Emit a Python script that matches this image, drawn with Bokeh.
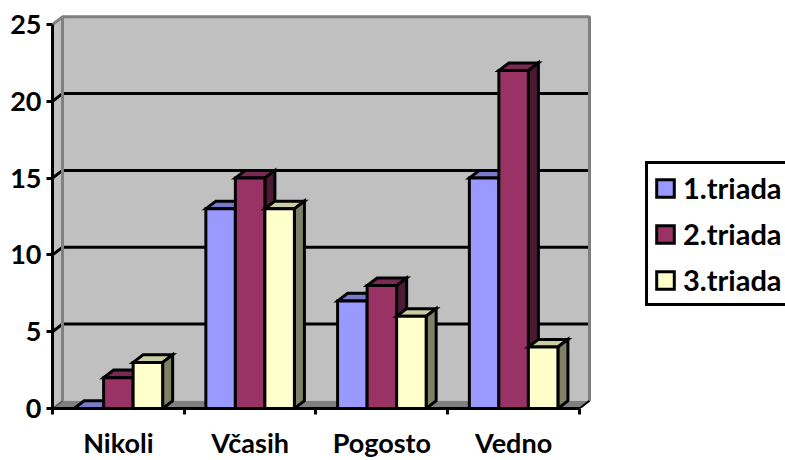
from bokeh.plotting import figure
from bokeh.embed import file_html
from bokeh.resources import INLINE
from bokeh.models import FixedTicker, Legend, LegendItem, ColumnDataSource, Range1d

categories = ["Nikoli", "Včasih", "Pogosto", "Vedno"]
series_names = ["1.triada", "2.triada", "3.triada"]
triada_1 = [0, 13, 7, 15]
triada_2 = [2, 15, 8, 22]
triada_3 = [3, 13, 6, 4]
y_ticks = [0, 5, 10, 15, 20, 25]

front_colors = ["#9999FF", "#993366", "#FFFFCC"]
top_colors = ["#7A7ACC", "#7A2952", "#CCCCA3"]
side_colors = ["#5C5C99", "#4D1A33", "#808066"]

# Oblique depth of the 3D box, in axis units
DX = 0.076
DY = 0.5
BAR_W = 0.224
GROUP_START = 0.164
N = len(categories)
Y_MAX = y_ticks[-1]
INK = 3

p = figure(width=785, height=460, output_backend="svg", toolbar_location=None,
           x_range=Range1d(0, 4.0987), y_range=Range1d(0, 25.651),
           frame_width=540, frame_height=394,
           min_border_left=52, min_border_right=193, min_border_top=14, min_border_bottom=52,
           background_fill_color=None, border_fill_color="white", outline_line_color=None)
p.grid.visible = False

# Back wall, side wall and floor
p.patch([DX, N + DX, N + DX, DX], [DY, DY, Y_MAX + DY, Y_MAX + DY], fill_color="#C0C0C0", line_color=None)
p.patch([0, DX, DX, 0], [0, DY, Y_MAX + DY, Y_MAX], fill_color="#C0C0C0", line_color=None)
p.patch([0, N, N + DX, DX], [0, 0, DY, DY], fill_color="#808080", line_color=None)

# Gridlines run along the back wall and bend down the side wall
for t in y_ticks[1:-1]:
    p.line([0, DX, N + DX], [t, t + DY, t + DY], line_color="black", line_width=INK)

# Wall outline drawn over the gridline ends
p.line([0, DX, N + DX, N + DX], [Y_MAX, Y_MAX + DY, Y_MAX + DY, DY], line_color="#808080", line_width=INK)
p.line([DX, DX], [DY, Y_MAX + DY], line_color="#808080", line_width=INK)
p.line([N, N + DX], [0, DY], line_color="black", line_width=2)
p.line([0, DX], [0, DY], line_color="#555555", line_width=1.5)

legend_items = []
for s, values in enumerate([triada_1, triada_2, triada_3]):
    left = [i + GROUP_START + s * BAR_W for i in range(N)]
    right = [x + BAR_W for x in left]
    p.patches([[l, r, r + DX, l + DX] for l, r in zip(left, right)],
              [[v, v, v + DY, v + DY] for v in values],
              fill_color=top_colors[s], line_color="black", line_width=INK, line_join="miter")
    p.patches([[r, r + DX, r + DX, r] for r in right],
              [[0, DY, v + DY, v] for v in values],
              fill_color=side_colors[s], line_color="black", line_width=INK, line_join="miter")
    src = ColumnDataSource(dict(left=left, right=right, top=values, bottom=[0] * N))
    bars = p.quad(left="left", right="right", top="top", bottom="bottom", source=src,
                  fill_color=front_colors[s], line_color="black", line_width=INK, line_join="miter")
    legend_items.append(LegendItem(label=series_names[s], renderers=[bars]))

FONT = "Lato"
p.yaxis.bounds = (0, Y_MAX)
p.yaxis.ticker = FixedTicker(ticks=y_ticks)
p.yaxis.axis_line_color = "black"
p.yaxis.axis_line_width = INK
p.yaxis.major_tick_line_color = "black"
p.yaxis.major_tick_line_width = INK
p.yaxis.major_tick_in = 0
p.yaxis.major_tick_out = 6
p.yaxis.minor_tick_line_color = None
p.yaxis.major_label_standoff = 5
p.yaxis.major_label_text_font = FONT
p.yaxis.major_label_text_font_style = "bold"
p.yaxis.major_label_text_font_size = "27px"
p.yaxis.major_label_text_color = "black"

# Category names sit mid-interval, tick marks on the interval boundaries
p.xaxis.bounds = (0, N)
p.xaxis.ticker = FixedTicker(ticks=[i + 0.5 for i in range(N)], minor_ticks=list(range(N + 1)))
p.xaxis.major_label_overrides = {i + 0.5: c for i, c in enumerate(categories)}
p.xaxis.axis_line_color = "black"
p.xaxis.axis_line_width = INK
p.xaxis.major_tick_line_color = None
p.xaxis.major_tick_in = 0
p.xaxis.major_tick_out = 0
p.xaxis.minor_tick_line_color = "black"
p.xaxis.minor_tick_line_width = INK
p.xaxis.minor_tick_in = 0
p.xaxis.minor_tick_out = 6
p.xaxis.major_label_standoff = 11
p.xaxis.major_label_text_font = FONT
p.xaxis.major_label_text_font_style = "bold"
p.xaxis.major_label_text_font_size = "27px"
p.xaxis.major_label_text_color = "black"

# Legend panel beside the plot box, running up to the right page edge
legend = Legend(items=legend_items, location=(53, 102), orientation="vertical",
                margin=0, padding=6, spacing=11, glyph_width=22, glyph_height=22,
                label_standoff=7, label_text_font=FONT, label_text_font_style="bold",
                label_text_font_size="29px", label_text_color="black",
                border_line_color="black", border_line_width=INK, border_line_alpha=1,
                background_fill_color="white", background_fill_alpha=1)
p.add_layout(legend, "right")

open("out.html", "w").write(file_html(p, INLINE))
